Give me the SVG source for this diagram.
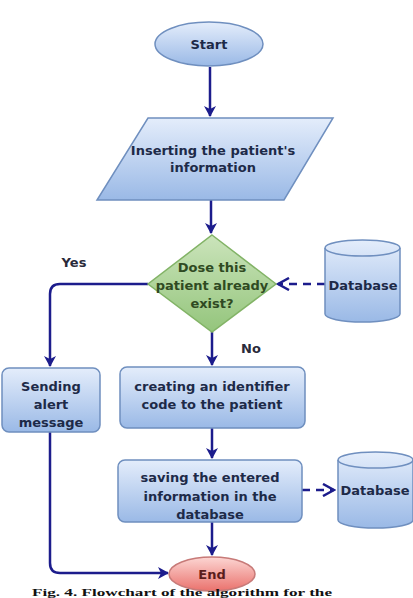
<svg xmlns="http://www.w3.org/2000/svg" width="413" height="598" viewBox="0 0 413 598">
<style>
.t{font-family:"DejaVu Sans","Liberation Sans",sans-serif;font-weight:bold;font-size:13px;text-anchor:middle;fill:#1d2a48}
.g{fill:#2f4a22}
.r{fill:#5a1c1c}
.lbl{font-family:"DejaVu Sans","Liberation Sans",sans-serif;font-weight:bold;font-size:13px;text-anchor:middle;fill:#2a2a3a}
.blue{fill:url(#gb);stroke:#6f8fbf;stroke-width:1.5}
.c{fill:none;stroke:#1c1c8c;stroke-width:2.5}
.d{fill:none;stroke:#1c1c8c;stroke-width:2.5;stroke-dasharray:8 6}
.cap{font-family:"Liberation Serif",serif;font-weight:bold;font-size:9.5px;fill:#111}
</style>
<defs>
<linearGradient id="gb" x1="0" y1="0" x2="0" y2="1"><stop offset="0" stop-color="#e4edfb"/><stop offset="1" stop-color="#9ab9e6"/></linearGradient>
<linearGradient id="gg" x1="0" y1="0" x2="0" y2="1"><stop offset="0" stop-color="#cbe4bb"/><stop offset="1" stop-color="#94c57c"/></linearGradient>
<linearGradient id="gr" x1="0" y1="0" x2="0" y2="1"><stop offset="0" stop-color="#fcd6d3"/><stop offset="1" stop-color="#ea726d"/></linearGradient>
<marker id="a" markerWidth="12" markerHeight="12" refX="10" refY="6" orient="auto" markerUnits="userSpaceOnUse"><path d="M0,0 L11,6 L0,12 L3,6 Z" fill="#1c1c8c"/></marker>
<marker id="o" markerWidth="14" markerHeight="14" refX="12" refY="7" orient="auto" markerUnits="userSpaceOnUse"><path d="M1,1 L12,7 L1,13" fill="none" stroke="#1c1c8c" stroke-width="2.5"/></marker>
</defs>
<rect width="413" height="598" fill="#ffffff"/>

<g id="connectors">
<path class="c" d="M210,67 L210,116" marker-end="url(#a)"/>
<path class="c" d="M211,200 L211,233" marker-end="url(#a)"/>
<path class="c" d="M212,332 L212,365" marker-end="url(#a)"/>
<path class="c" d="M148,284 L60,284 Q50,284 50,294 L50,366" marker-end="url(#a)"/>
<path class="c" d="M212,428 L212,458" marker-end="url(#a)"/>
<path class="c" d="M212,522 L212,555" marker-end="url(#a)"/>
<path class="c" d="M50,432 L50,563 Q50,573 60,573 L168,573" marker-end="url(#a)"/>
<path class="d" d="M325,284 L278,284" marker-end="url(#o)"/>
<path class="d" d="M302,490 L334,490" marker-end="url(#o)"/>
</g>

<g id="start">
<ellipse class="blue" cx="209" cy="44" rx="54" ry="22"/>
<text class="t" x="209" y="49">Start</text>
</g>

<g id="input">
<polygon class="blue" points="148,118 333,118 284,200 97,200"/>
<text class="t" x="213" y="155">Inserting the patient's</text>
<text class="t" x="213" y="172">information</text>
</g>

<g id="decision">
<polygon points="212,235 276,284 212,332 148,284" fill="url(#gg)" stroke="#82b366" stroke-width="1.5"/>
<text class="t g" x="212" y="272">Dose this</text>
<text class="t g" x="212" y="290">patient already</text>
<text class="t g" x="212" y="308">exist?</text>
</g>

<g id="db1">
<path class="blue" d="M325,248 A37.5,8 0 0 1 400,248 L400,314 A37.5,8 0 0 1 325,314 Z"/>
<path d="M325,248 A37.5,8 0 0 0 400,248" fill="none" stroke="#6f8fbf" stroke-width="1.5"/>
<text class="t" x="363" y="290">Database</text>
</g>

<g id="labels">
<text class="lbl" x="74" y="267">Yes</text>
<text class="lbl" x="251" y="353">No</text>
</g>

<g id="alert">
<rect class="blue" x="2" y="368" width="98" height="64" rx="7"/>
<text class="t" x="51" y="391">Sending</text>
<text class="t" x="51" y="409">alert</text>
<text class="t" x="51" y="427">message</text>
</g>

<g id="create">
<rect class="blue" x="120" y="367" width="185" height="61" rx="7"/>
<text class="t" x="212" y="391">creating an identifier</text>
<text class="t" x="212" y="409">code to the patient</text>
</g>

<g id="save">
<rect class="blue" x="118" y="460" width="184" height="62" rx="7"/>
<text class="t" x="210" y="482">saving the entered</text>
<text class="t" x="210" y="501">information in the</text>
<text class="t" x="210" y="519">database</text>
</g>

<g id="db2">
<path class="blue" d="M338,460 A37.5,8 0 0 1 413,460 L413,520 A37.5,8 0 0 1 338,520 Z"/>
<path d="M338,460 A37.5,8 0 0 0 413,460" fill="none" stroke="#6f8fbf" stroke-width="1.5"/>
<text class="t" x="375" y="495">Database</text>
</g>

<g id="end">
<ellipse cx="212" cy="574" rx="43" ry="17" fill="url(#gr)" stroke="#c77a78" stroke-width="1.5"/>
<text class="t r" x="212" y="579">End</text>
</g>

<text class="cap" x="32" y="596" textLength="300" lengthAdjust="spacingAndGlyphs">Fig. 4. Flowchart of the algorithm for the</text>
</svg>
